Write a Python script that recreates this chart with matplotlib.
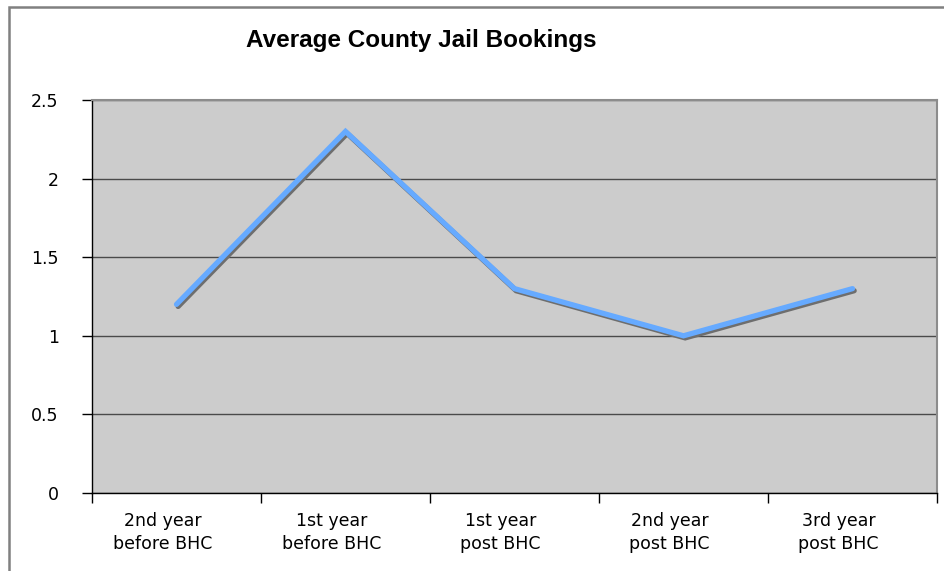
import matplotlib
matplotlib.use('Agg')
import matplotlib.pyplot as plt
import matplotlib.patheffects as pe
import matplotlib.transforms as mtransforms
import numpy as np

categories = ['2nd year\nbefore BHC', '1st year\nbefore BHC', '1st year\npost BHC',
              '2nd year\npost BHC', '3rd year\npost BHC']
bookings = [1.2, 2.3, 1.3, 1.0, 1.3]
y_ticks = [0, 0.5, 1, 1.5, 2, 2.5]
y_labels = ['0', '0.5', '1', '1.5', '2', '2.5']

W, H = 945, 571
fig = plt.figure(figsize=(W / 100, H / 100), dpi=100)
# plot area in pixels: x 92..937, y 100..493
ax = fig.add_axes([92 / W, 1 - 493 / H, 845 / W, 393 / H])
ax.set_facecolor('#cccccc')

x = np.arange(len(categories))
ax.plot(x, bookings, color='#66aaff', linewidth=3.8, solid_capstyle='round',
        solid_joinstyle='miter', zorder=3,
        path_effects=[pe.SimpleLineShadow(offset=(1.2, -1.5), shadow_color='#6e6e6e', alpha=1),
                      pe.Normal()])

ax.set_xlim(-0.5, len(categories) - 0.5)
ax.set_ylim(0, 2.5)
ax.set_yticks(y_ticks)
ax.set_yticklabels(y_labels, fontsize=12.5)
ax.set_xticks(np.arange(len(categories) + 1) - 0.5)
ax.set_xticklabels([])
ax.set_xticks(x, minor=True)
ax.set_xticklabels(categories, minor=True, fontsize=12.5, linespacing=1.35)
ax.tick_params(axis='x', which='minor', length=0, pad=14)
ax.tick_params(axis='both', which='major', direction='out', length=7, width=1, color='black')
ax.tick_params(axis='y', pad=17)

# category labels sit a little left of the category centre in the original
shift = mtransforms.ScaledTranslation(-14 / 100, 0, fig.dpi_scale_trans)
for lbl in ax.get_xticklabels(minor=True):
    lbl.set_transform(lbl.get_transform() + shift)

ax.grid(axis='y', color='#4a4a4a', linewidth=1)
ax.set_axisbelow(True)
for side in ('top', 'right'):
    ax.spines[side].set_color('#8c8c8c')
    ax.spines[side].set_linewidth(1.5)
for side in ('left', 'bottom'):
    ax.spines[side].set_color('black')
    ax.spines[side].set_linewidth(1)

fig.text(421 / W, 1 - 47 / H, 'Average County Jail Bookings', ha='center', va='baseline',
         fontsize=17.5, fontweight='bold', family='Liberation Sans')

# outer chart border, running off the right and bottom edges
fig.patches.append(plt.Rectangle((9 / W, -0.05), 1.0, 1 - 7 / H + 0.05, transform=fig.transFigure,
                                 fill=False, edgecolor='#808080', linewidth=1.8))

fig.savefig('out.png', dpi=100)
